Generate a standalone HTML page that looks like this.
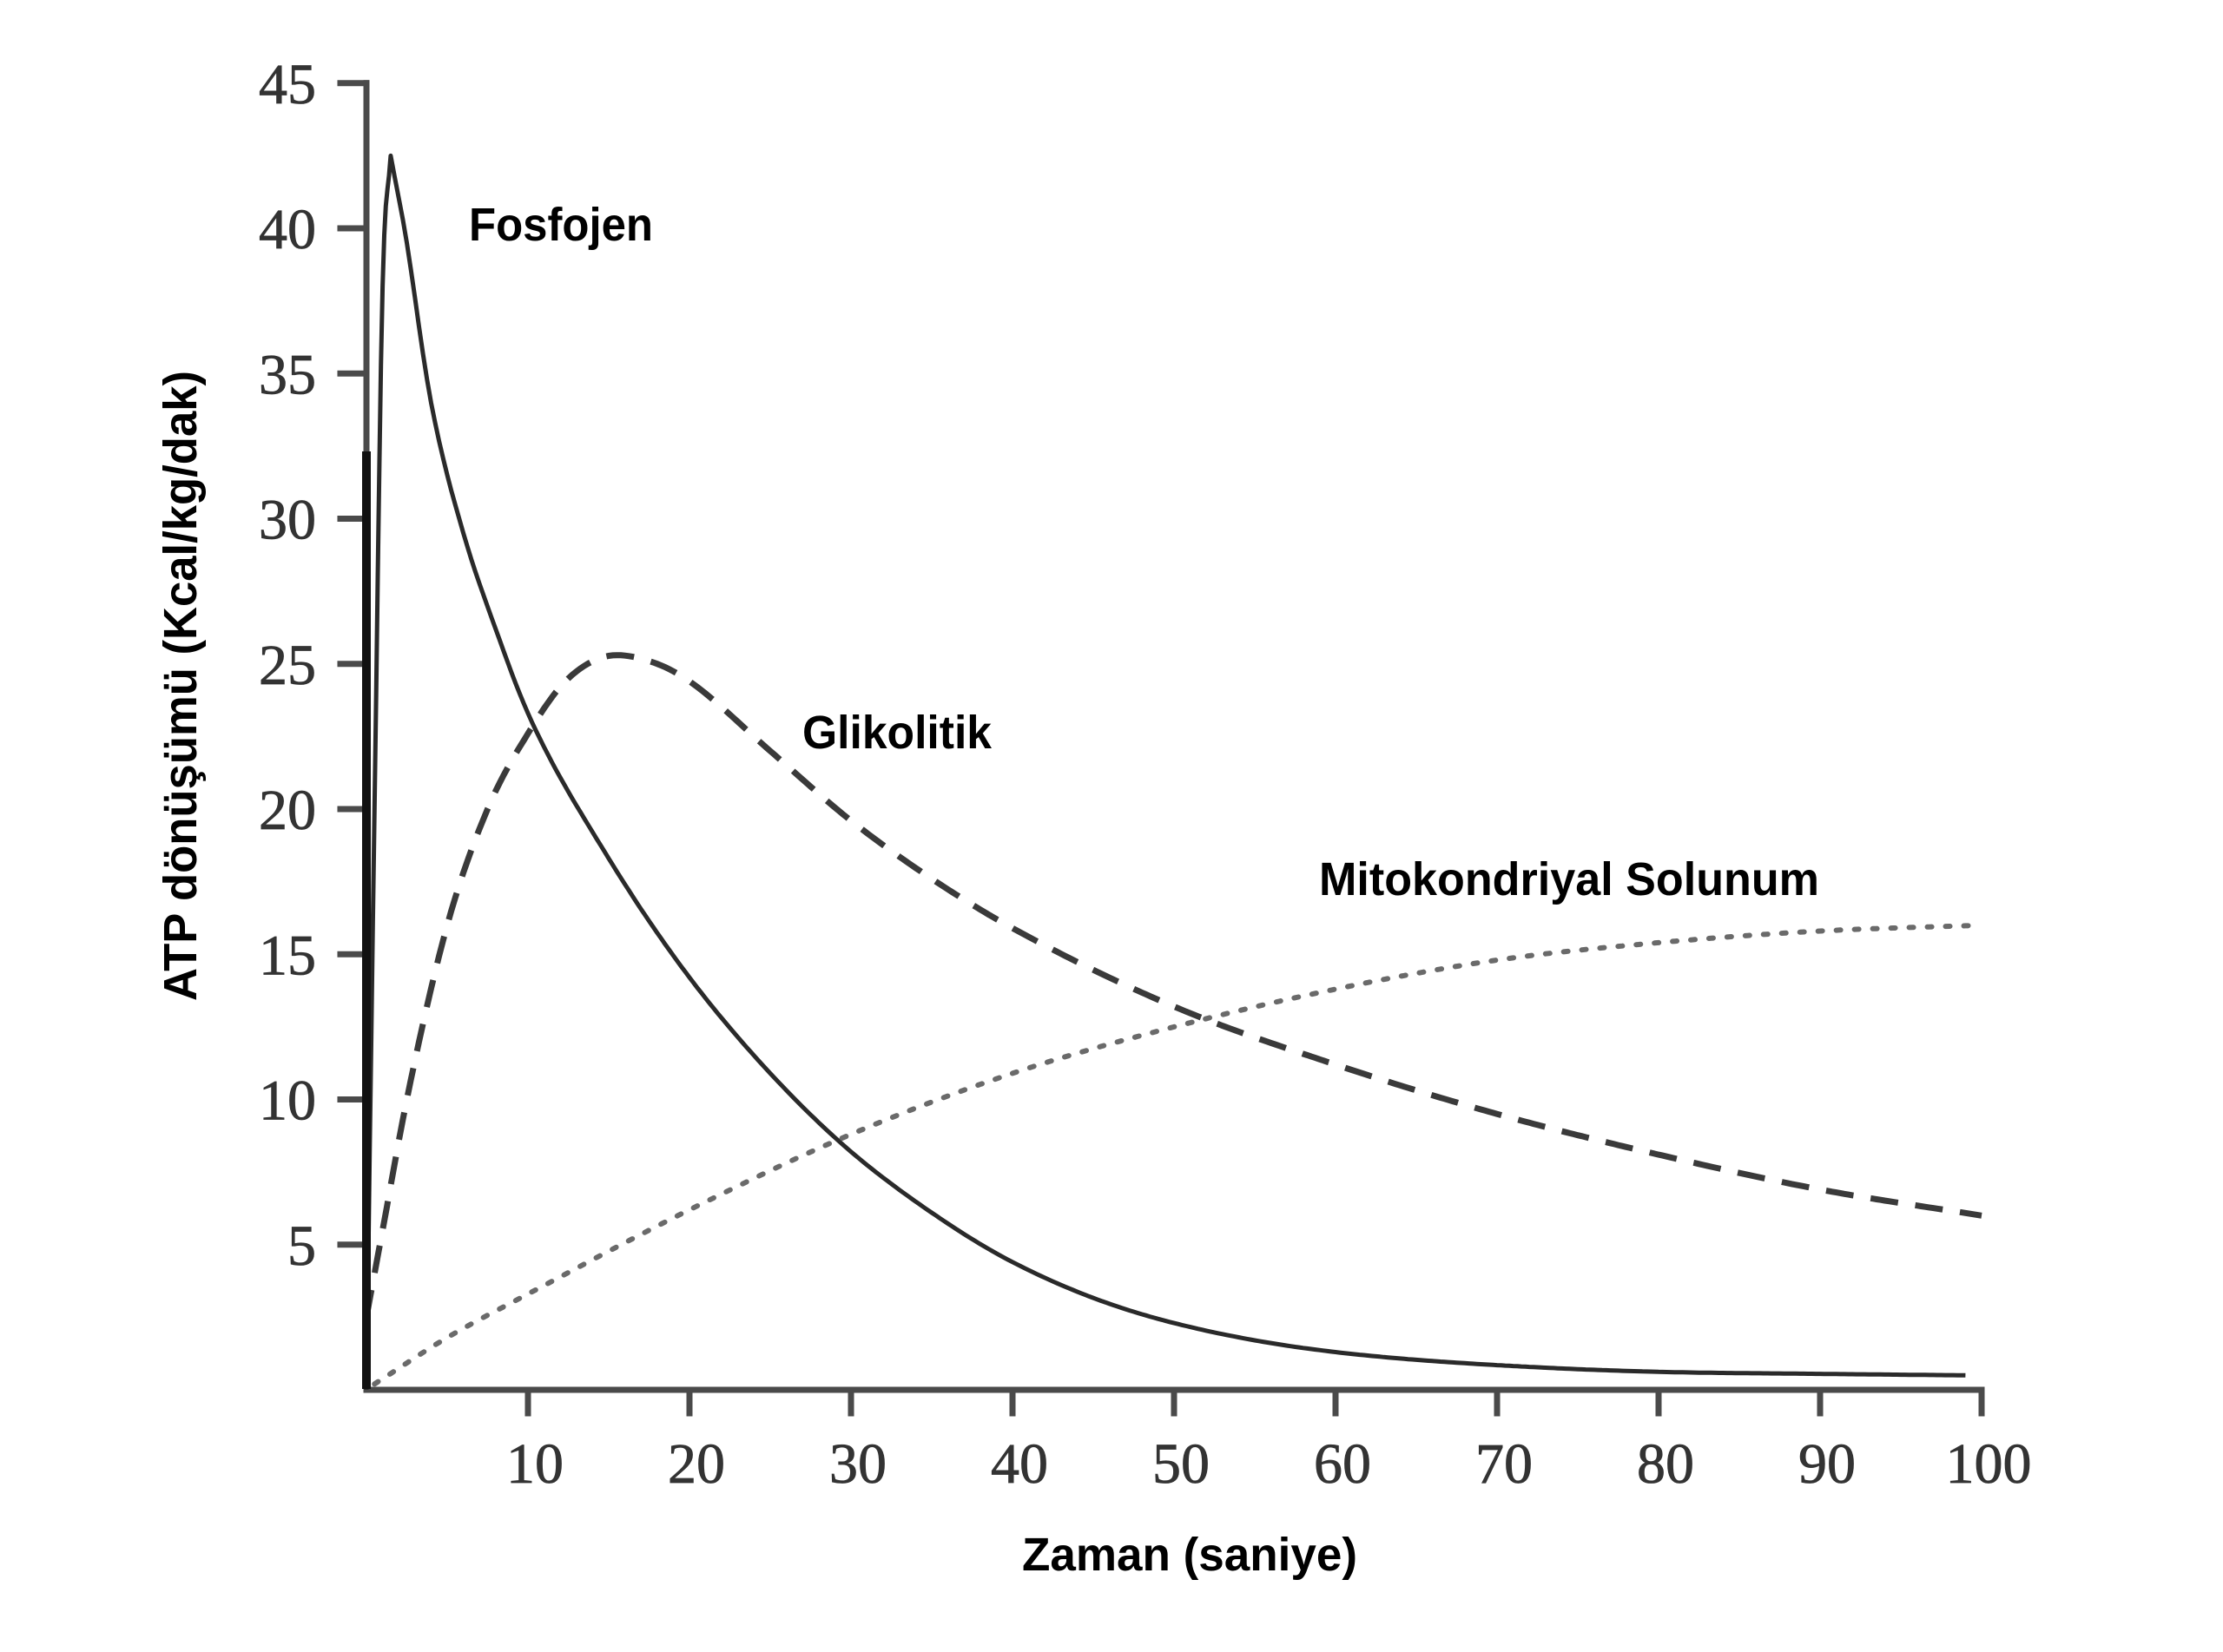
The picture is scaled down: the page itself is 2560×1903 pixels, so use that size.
<!DOCTYPE html>
<html><head><meta charset="utf-8"><style>
html,body{margin:0;padding:0;background:#fff;}
svg{display:block;}
.tk{font-family:"Liberation Serif",serif;font-size:66px;fill:#333;stroke:#333;stroke-width:0.8px;}
.lb{font-family:"Liberation Sans",sans-serif;font-weight:bold;font-size:54px;fill:#000;}
</style></head><body>
<svg id="s" width="2560" height="1903" xmlns="http://www.w3.org/2000/svg">
<rect width="2560" height="1903" fill="#fff"/>
<g id="axes" stroke="#4a4a4a" stroke-width="7" fill="none" stroke-linecap="square"></g>
<g id="labels"></g>
<path id="phos" fill="none" stroke="#2a2a2a" stroke-width="5" stroke-linejoin="round"/>
<path id="gly" fill="none" stroke="#3a3a3a" stroke-width="7" stroke-dasharray="32 20"/>
<path id="mito" fill="none" stroke="#6a6a6a" stroke-width="6" stroke-dasharray="5 16" stroke-linecap="round"/>
<line x1="422" y1="520" x2="422" y2="1600" stroke="#111" stroke-width="10"/>
<text class="lb" x="540" y="277" textLength="212" lengthAdjust="spacingAndGlyphs">Fosfojen</text>
<text class="lb" x="924" y="862" textLength="218" lengthAdjust="spacingAndGlyphs">Glikolitik</text>
<text class="lb" x="1519" y="1031" textLength="576" lengthAdjust="spacingAndGlyphs">Mitokondriyal Solunum</text>
<text class="lb" x="1177" y="1809" textLength="386" lengthAdjust="spacingAndGlyphs">Zaman (saniye)</text>
<text class="lb" transform="translate(226,790) rotate(-90)" text-anchor="middle" textLength="726" lengthAdjust="spacingAndGlyphs">ATP dönüşümü (Kcal/kg/dak)</text>
</svg>
<script>
var X0=422,Y0=1601,SX=18.6,SY=33.45;
function px(t){return X0+SX*t} function py(v){return Y0-SY*v}
var ax=document.getElementById('axes'),lb=document.getElementById('labels');
var ns="http://www.w3.org/2000/svg";
function el(tag,a,p){var e=document.createElementNS(ns,tag);for(var k in a)e.setAttribute(k,a[k]);p.appendChild(e);return e}
el('line',{x1:X0,y1:py(45),x2:X0,y2:Y0},ax);
el('line',{x1:X0,y1:Y0,x2:px(100),y2:Y0},ax);
for(var v=5;v<=45;v+=5){el('line',{x1:X0-30,y1:py(v),x2:X0,y2:py(v)},ax);
 var t=el('text',{x:364,y:py(v)+23,'class':'tk','text-anchor':'end'},lb);t.textContent=v;}
for(var t=10;t<=100;t+=10){el('line',{x1:px(t),y1:Y0,x2:px(t),y2:Y0+27},ax);
 var e=el('text',{x:px(t)+8,y:1708,'class':'tk','text-anchor':'middle'},lb);e.textContent=t;}
// monotone cubic interpolation
function mono(xs,ys){var n=xs.length,d=[],m=[];for(var i=0;i<n-1;i++)d.push((ys[i+1]-ys[i])/(xs[i+1]-xs[i]));
 m[0]=d[0];m[n-1]=d[n-2];for(var i=1;i<n-1;i++){m[i]=(d[i-1]*d[i]<=0)?0:(d[i-1]+d[i])/2;}
 for(var i=0;i<n-1;i++){if(d[i]==0){m[i]=m[i+1]=0;continue;}var a=m[i]/d[i],b=m[i+1]/d[i],s=a*a+b*b;if(s>9){var tt=3/Math.sqrt(s);m[i]=tt*a*d[i];m[i+1]=tt*b*d[i];}}
 return function(x){var i=0;while(i<n-2&&x>xs[i+1])i++;var h=xs[i+1]-xs[i],t=(x-xs[i])/h,t2=t*t,t3=t2*t;
 return (2*t3-3*t2+1)*ys[i]+(t3-2*t2+t)*h*m[i]+(-2*t3+3*t2)*ys[i+1]+(t3-t2)*h*m[i+1];}}
function build(id,pts,t0,t1,step){var f=mono(pts.map(p=>p[0]),pts.map(p=>p[1]));var d="";
 for(var t=t0;t<=t1+1e-9;t+=step){d+=(d?" L":"M")+px(t).toFixed(1)+","+py(f(t)).toFixed(1);}
 document.getElementById(id).setAttribute('d',d);}
// phosphogen: rise then log-space decay
(function(){var K=[[1.5,42.5],[2.5,39.5],[4,34],[6,29.5],[8,26.2],[10,23.3],[15,18.3],[20,14.2],[25,10.9],[30,8.2],[35,6.1],[40,4.4],[50,2.3],[60,1.3],[70,0.85],[80,0.62],[90,0.55],[99,0.5]];
 var f=mono(K.map(p=>p[0]),K.map(p=>Math.log(p[1])));var d="M"+px(0)+","+py(0);
 var r=mono([0,0.5,1,1.5],[0,20,38,42.5]);
 for(var t=0.1;t<1.5;t+=0.1)d+=" L"+px(t).toFixed(1)+","+py(r(t)).toFixed(1);
 for(var t=1.5;t<=99;t+=0.25)d+=" L"+px(t).toFixed(1)+","+py(Math.exp(f(t))).toFixed(1);
 document.getElementById('phos').setAttribute('d',d);})();
build('gly',[[0,2.5],[1,5.5],[2.5,10],[5,16],[7.5,20],[10,22.6],[12.5,24.5],[15.5,25.3],[18,25],[20,24.4],[25,22],[30,19.6],[35,17.6],[40,15.9],[50,13.2],[60,11.2],[70,9.5],[80,8.1],[90,6.9],[100,6.0]],0,100,0.25);
build('mito',[[0.5,0.2],[5,1.8],[10,3.3],[20,6.2],[30,8.8],[40,10.9],[50,12.5],[60,13.8],[70,14.8],[80,15.4],[90,15.8],[100,16.0]],0.5,100,0.25);
</script>
</body></html>
